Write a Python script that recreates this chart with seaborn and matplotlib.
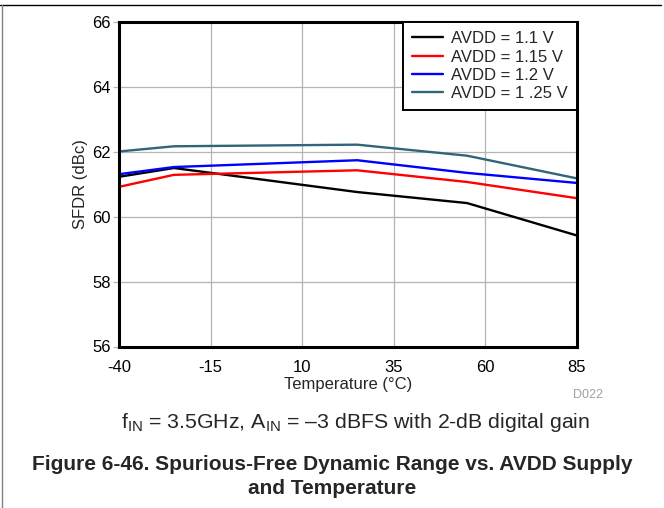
import matplotlib
matplotlib.use("Agg")
import matplotlib.pyplot as plt
from matplotlib.lines import Line2D
import seaborn as sns
import pandas as pd

# Temperature sweep points (°C)
temperature = [-40, -25, 25, 55, 85]

# SFDR (dBc) for each AVDD supply setting
sfdr_1p10 = [61.23, 61.50, 60.76, 60.42, 59.42]
sfdr_1p15 = [60.92, 61.29, 61.43, 61.07, 60.57]
sfdr_1p20 = [61.31, 61.53, 61.74, 61.35, 61.04]
sfdr_1p25 = [62.01, 62.17, 62.22, 61.88, 61.18]

series_labels = ["AVDD = 1.1 V", "AVDD = 1.15 V", "AVDD = 1.2 V", "AVDD = 1 .25 V"]
series_values = [sfdr_1p10, sfdr_1p15, sfdr_1p20, sfdr_1p25]
series_colors = ["#000000", "#ff0000", "#0000ff", "#316579"]

x_ticks = [-40, -15, 10, 35, 60, 85]
y_ticks = [56, 58, 60, 62, 64, 66]

rows = []
for label, vals in zip(series_labels, series_values):
    for t, v in zip(temperature, vals):
        rows.append({"Temperature": t, "SFDR": v, "Supply": label})
df = pd.DataFrame(rows)

sns.set_theme(style="white")
plt.rcParams["font.family"] = ["Liberation Sans", "DejaVu Sans"]
plt.rcParams["mathtext.fontset"] = "custom"
plt.rcParams["mathtext.rm"] = "Liberation Sans"

fig = plt.figure(figsize=(6.64, 5.08), dpi=100)
ax = fig.add_axes([119 / 664, 1 - 346.5 / 508, 458 / 664, 324.5 / 508])

sns.lineplot(data=df, x="Temperature", y="SFDR", hue="Supply",
             hue_order=series_labels, palette=series_colors,
             linewidth=1.7, ax=ax, legend=True)

ax.set_xlim(-40, 85)
ax.set_ylim(56, 66)
ax.set_xticks(x_ticks)
ax.set_yticks(y_ticks)
ax.set_xticklabels([str(t) for t in x_ticks])
ax.set_yticklabels([str(t) for t in y_ticks])
ax.grid(True, color="#b4b4b4", linewidth=0.9)
ax.set_axisbelow(True)
for sp in ax.spines.values():
    sp.set_color("black")
    sp.set_linewidth(2.2)
ax.tick_params(axis="x", length=0, pad=10, labelsize=12, colors="black")
ax.tick_params(axis="y", length=4, width=0.9, color="#b4b4b4", pad=2,
               labelsize=12, labelcolor="black", left=True)

ax.set_xlabel("Temperature (°C)", fontsize=12)
ax.xaxis.set_label_coords(0.5, -0.095)
ax.set_ylabel("SFDR (dBc)", fontsize=12, labelpad=3)

leg = ax.legend(loc="upper right", borderaxespad=0, fontsize=12,
                frameon=True, fancybox=False, handlelength=1.85,
                handletextpad=0.5, labelspacing=0.2, borderpad=0.55)
leg.get_frame().set_edgecolor("black")
leg.get_frame().set_linewidth(1.4)
leg.get_frame().set_alpha(1)
for h in leg.get_lines():
    h.set_linewidth(1.7)

fig.text(588 / 664, 1 - 395 / 508, "D022", color="#a0a0a0", fontsize=9,
         ha="center", va="center")
fig.text(356 / 664, 1 - 422 / 508,
         r"f$_{\mathregular{IN}}$ = 3.5GHz, A$_{\mathregular{IN}}$ = –3 dBFS with 2-dB digital gain",
         fontsize=15.3, ha="center", va="center")
fig.text(332.5 / 664, 1 - 465 / 508,
         "Figure 6-46. Spurious-Free Dynamic Range vs. AVDD Supply",
         fontsize=15, fontweight="bold", ha="center", va="center")
fig.text(332.5 / 664, 1 - 489 / 508, "and Temperature",
         fontsize=15, fontweight="bold", ha="center", va="center")

# page frame rules
fig.add_artist(Line2D([0, 0.995], [1 - 4.5 / 508, 1 - 4.5 / 508],
                      transform=fig.transFigure, color="black", linewidth=1.0))
fig.add_artist(Line2D([1.5 / 664, 1.5 / 664], [0, 1 - 4.5 / 508],
                      transform=fig.transFigure, color="#808080", linewidth=1.0))

fig.savefig("out.png", dpi=100)
